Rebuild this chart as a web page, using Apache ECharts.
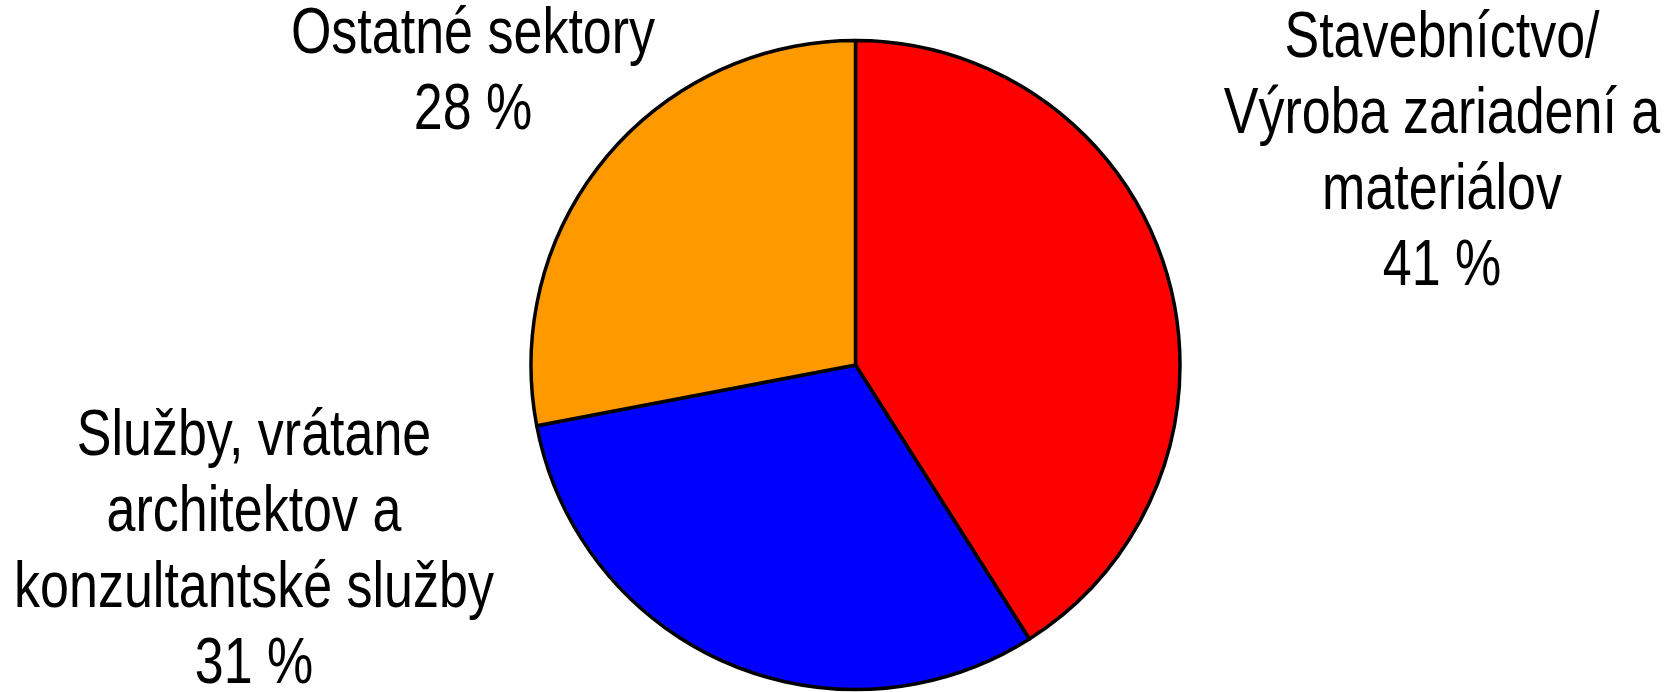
<!DOCTYPE html>
<html>
<head>
<meta charset="utf-8">
<script src="https://cdn.jsdelivr.net/npm/echarts@6/dist/echarts.min.js"></script>
<style>
html,body{margin:0;padding:0;background:#fff;}
#main{width:1674px;height:692px;}
</style>
</head>
<body>
<div id="main"></div>
<script>
// Data
const categories = [
  'Stavebníctvo/\nVýroba zariadení a\nmateriálov',
  'Služby, vrátane\narchitektov a\nkonzultantské služby',
  'Ostatné sektory'
];
const values = [41, 31, 28];
const colors = ['#ff0000', '#0000ff', '#ff9900'];

// Label anchor positions (layout only)
const labelAnchors = [[1442, 153], [254, 551], [473, 73]];
const narrow = 0.80; // emulate a narrow sans face

const chart = echarts.init(document.getElementById('main'), null, {renderer: 'canvas'});
chart.setOption({
  animation: false,
  backgroundColor: '#ffffff',
  series: [{
    type: 'pie',
    center: [855.5, 365],
    radius: [0, 324.5],
    startAngle: 90,
    clockwise: true,
    avoidLabelOverlap: false,
    data: categories.map((c, i) => ({
      name: c, value: values[i],
      itemStyle: {color: colors[i]}
    })),
    itemStyle: {borderColor: '#000', borderWidth: 3.5},
    emphasis: {disabled: true},
    label: {
      show: true,
      position: 'outside',
      formatter: p => p.name + '\n' + p.value + ' %',
      fontFamily: '"Liberation Sans Narrow", "Arial Narrow", "Liberation Sans", Arial, sans-serif',
      fontSize: 65,
      lineHeight: 76,
      color: '#000',
      align: 'center'
    },
    labelLine: {show: false},
    labelLayout: p => ({
      x: labelAnchors[p.dataIndex][0],
      y: labelAnchors[p.dataIndex][1],
      align: 'center',
      verticalAlign: 'middle'
    })
  }]
});

function narrowLabels() {
  try {
    const data = chart.getModel().getSeriesByIndex(0).getData();
    data.each(function (idx) {
      const el = data.getItemGraphicEl(idx);
      const t = el && el.getTextContent && el.getTextContent();
      if (t) {
        t.scaleX = narrow;
        t.scaleY = 1;
        t.originX = 0;
        t.originY = 0;
        t.markRedraw();
      }
    });
    chart.getZr().refresh();
  } catch (e) { console.error(e); }
}
narrowLabels();
chart.on('finished', function () {
  const data = chart.getModel().getSeriesByIndex(0).getData();
  const el = data.getItemGraphicEl(0);
  const t = el && el.getTextContent();
  if (t && t.scaleX !== narrow) narrowLabels();
});
</script>
</body>
</html>
